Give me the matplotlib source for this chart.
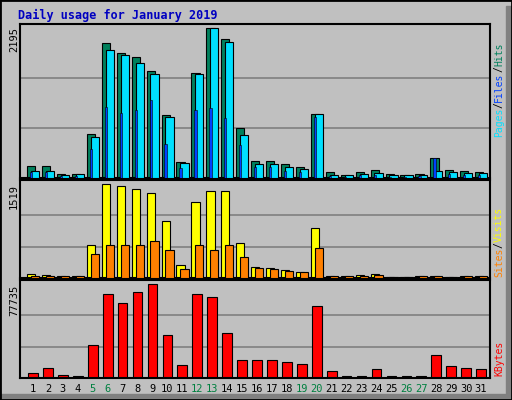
import matplotlib
matplotlib.use("Agg")
import matplotlib.pyplot as plt
from matplotlib.patches import Rectangle

days = list(range(1, 32))
hits = [178,178,59,59,650,1985,1836,1777,1570,918,237,1540,2195,2040,740,250,250,207,163,933,89,44,89,118,59,44,59,296,118,104,89]
files = [110,110,45,59,600,1880,1800,1690,1520,890,225,1520,2195,1990,630,200,210,160,130,933,50,40,60,80,40,40,50,110,90,80,70]
pages = [90,90,30,30,420,1036,960,1000,1140,500,150,1000,1030,880,480,160,160,110,90,900,30,20,40,50,20,20,30,290,60,50,40]
visits = [65,49,33,33,538,1519,1486,1437,1372,913,212,1225,1405,1405,571,180,163,130,98,799,33,33,49,65,16,10,33,33,10,33,33]
sites = [40,35,25,25,392,538,538,538,603,457,147,538,457,538,343,160,147,114,98,490,25,25,40,45,20,10,25,25,10,25,25]
kbytes = [4200,8400,2500,1700,27600,69400,61900,71000,77735,35100,10900,69400,66900,36800,15000,15000,15000,13400,11700,59400,5900,1500,1500,7500,1500,1500,1500,19200,10000,8400,7500]
weekend = [5,6,12,13,19,20,26,27]

W, H = 512, 400
fig = plt.figure(figsize=(W/100, H/100), dpi=100)
fig.patch.set_facecolor('#C0C0C0')
fig.patches.append(Rectangle((0, 0), 1, 1, transform=fig.transFigure, fill=False, edgecolor='black', lw=2))
fig.patches.append(Rectangle((506/W, 0), 6/W, 394/H, transform=fig.transFigure, color='#808080', zorder=0))
fig.patches.append(Rectangle((0, 0), 506/W, 6/H, transform=fig.transFigure, color='#808080', zorder=0))
mono = 'DejaVu Sans Mono'
fig.text(18/W, 1-15/H, 'Daily usage for January 2019', color='#0000C0', fontsize=8.5, fontweight='bold', family=mono, va='center')

def panel(top, bottom):
    ax = fig.add_axes([20/W, 1-bottom/H, 470/W, (bottom-top)/H])
    ax.set_facecolor('#C0C0C0')
    ax.set_xlim(0.13, 31.6)
    ax.set_xticks([])
    for s in ax.spines.values():
        s.set_linewidth(1.5)
    ax.tick_params(left=False, labelleft=False)
    return ax

def grid(ax, mx):
    for f in (1/3, 2/3):
        ax.axhline(mx*f, color='#808080', lw=1.2, zorder=0)

ax1 = panel(24, 178)
mx1 = max(hits)
ax1.set_ylim(0, mx1*1.03)
grid(ax1, mx1)
ax1.bar([d-0.12 for d in days], hits, width=0.55, color='#00805C', edgecolor='black', lw=0.8, zorder=2)
ax1.bar([d+0.14 for d in days], files, width=0.55, color='#00E0FF', edgecolor='black', lw=0.8, zorder=3)
ax1.bar([d-0.12 for d in days], pages, width=0.15, color='#0040FF', edgecolor='black', lw=0.4, zorder=4)
fig.text(14/W, 1-40/H, '2195', rotation=90, fontsize=7.5, family=mono, va='center', ha='center')

ax2 = panel(180, 278)
mx2 = max(visits)
ax2.set_ylim(0, mx2*1.04)
grid(ax2, mx2)
ax2.bar([d-0.12 for d in days], visits, width=0.55, color='#FFFF00', edgecolor='black', lw=0.8, zorder=2)
ax2.bar([d+0.14 for d in days], sites, width=0.55, color='#FF8000', edgecolor='black', lw=0.8, zorder=3)
fig.text(14/W, 1-197/H, '1519', rotation=90, fontsize=7.5, family=mono, va='center', ha='center')

ax3 = panel(280, 378)
mx3 = max(kbytes)
ax3.set_ylim(0, mx3*1.04)
grid(ax3, mx3)
ax3.bar(days, kbytes, width=0.65, color='#FF0000', edgecolor='black', lw=0.8, zorder=2)
fig.text(14/W, 1-300/H, '77735', rotation=90, fontsize=7.5, family=mono, va='center', ha='center')

for d in days:
    x = 20 + (d - 0.13) / (31.6 - 0.13) * 470
    fig.text(x/W, 1-389/H, str(d), color='#008040' if d in weekend else 'black',
             fontsize=7.5, family=mono, ha='center', va='center')

def rlabel(parts, ybottom):
    y = ybottom
    for txt, col in parts:
        fig.text(499/W, y/H, txt, color=col, rotation=90, fontsize=7, family=mono, ha='center', va='bottom')
        y += len(txt) * 5.9
rlabel([('Pages', '#00E0FF'), ('/', 'black'), ('Files', '#0040FF'), ('/', 'black'), ('Hits', '#00805C')], 400-137)
rlabel([('Sites', '#FF8000'), ('/', 'black'), ('Visits', '#FFFF00')], 400-277)
rlabel([('KBytes', '#FF0000')], 400-376)

fig.savefig('out.png', dpi=100, facecolor=fig.get_facecolor())
